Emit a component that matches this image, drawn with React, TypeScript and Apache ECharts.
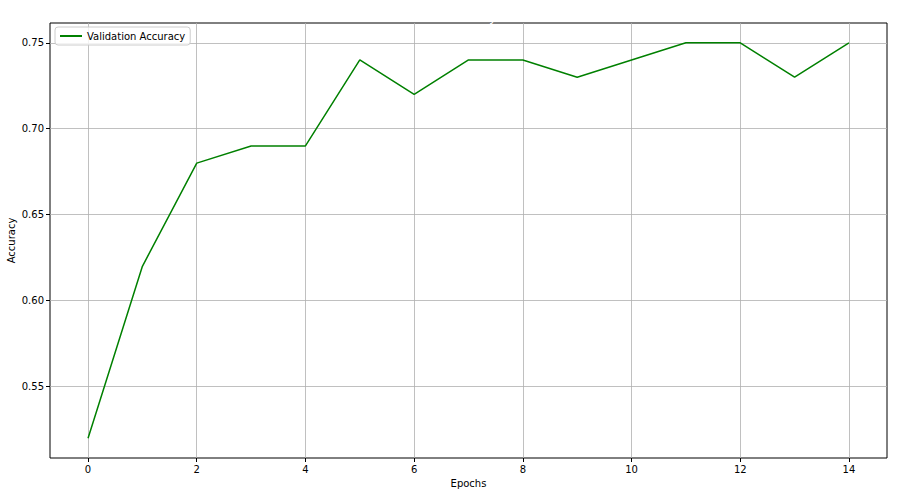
import React, { useEffect, useRef } from "react";
import * as echarts from "echarts";

const epochs = [0, 1, 2, 3, 4, 5, 6, 7, 8, 9, 10, 11, 12, 13, 14];
const valAccuracy = [0.52, 0.62, 0.68, 0.69, 0.69, 0.74, 0.72, 0.74, 0.74, 0.73, 0.74, 0.75, 0.75, 0.73, 0.75];
const xTicks = [0, 2, 4, 6, 8, 10, 12, 14];
const yTicks = [0.55, 0.6, 0.65, 0.7, 0.75];

const FONT = "DejaVu Sans";

export default function App() {
  const ref = useRef<HTMLDivElement>(null);
  useEffect(() => {
    if (!ref.current) return;
    const chart = echarts.init(ref.current, null, { renderer: "svg" });
    chart.setOption({
      animation: false,
      backgroundColor: "#ffffff",
      title: {
        text: "Model Accuracy",
        left: "center",
        top: 6,
        textStyle: { color: "#ffffff", fontFamily: FONT, fontSize: 12, fontWeight: "normal" },
      },
      legend: {
        left: 55,
        top: 27,
        data: ["Validation Accuracy"],
        itemWidth: 22,
        itemHeight: 2,
        itemGap: 6,
        padding: [4, 5, 4, 5],
        backgroundColor: "rgba(255,255,255,0.8)",
        borderColor: "#cccccc",
        borderWidth: 1,
        borderRadius: 3,
        icon: "rect",
        textStyle: { fontFamily: FONT, fontSize: 10, color: "#000" },
      },
      grid: {
        left: 50,
        right: 11,
        top: 23,
        bottom: 38,
        containLabel: false,
        outerBoundsMode: "none",
        show: true,
        borderColor: "#000",
        borderWidth: 1,
        backgroundColor: "transparent",
      },
      xAxis: {
        type: "value",
        min: -0.7,
        max: 14.7,
        name: "Epochs",
        nameLocation: "middle",
        nameGap: 20,
        nameMoveOverlap: false,
        nameTextStyle: { fontFamily: FONT, fontSize: 10, color: "#000" },
        axisLine: { show: false, onZero: false },
        axisTick: { show: true, inside: false, length: 4, customValues: xTicks, lineStyle: { color: "#000", width: 1 } },
        axisLabel: {
          customValues: xTicks,
          fontFamily: FONT,
          fontSize: 10,
          color: "#000",
          margin: 6,
        },
        splitLine: { show: true, lineStyle: { color: "#b0b0b0", width: 0.8 } },
      },
      yAxis: {
        type: "value",
        min: 0.5085,
        max: 0.7615,
        name: "Accuracy",
        nameLocation: "middle",
        nameGap: 34,
        nameMoveOverlap: false,
        nameTextStyle: { fontFamily: FONT, fontSize: 10, color: "#000" },
        axisLine: { show: false, onZero: false },
        axisTick: { show: true, inside: false, length: 4, customValues: yTicks, lineStyle: { color: "#000", width: 1 } },
        axisLabel: {
          customValues: yTicks,
          fontFamily: FONT,
          fontSize: 10,
          color: "#000",
          margin: 6,
          formatter: (v: number) => v.toFixed(2),
        },
        splitLine: { show: true, lineStyle: { color: "#b0b0b0", width: 0.8 } },
      },
      series: [
        {
          name: "Validation Accuracy",
          type: "line",
          data: epochs.map((e, i) => [e, valAccuracy[i]]),
          showSymbol: false,
          symbol: "none",
          lineStyle: { color: "#008000", width: 1.5 },
          itemStyle: { color: "#008000" },
        },
      ],
    });
    return () => chart.dispose();
  }, []);
  return (
    <div
      ref={ref}
      style={{ position: "fixed", left: 0, top: 0, width: 898, height: 496 }}
    />
  );
}
